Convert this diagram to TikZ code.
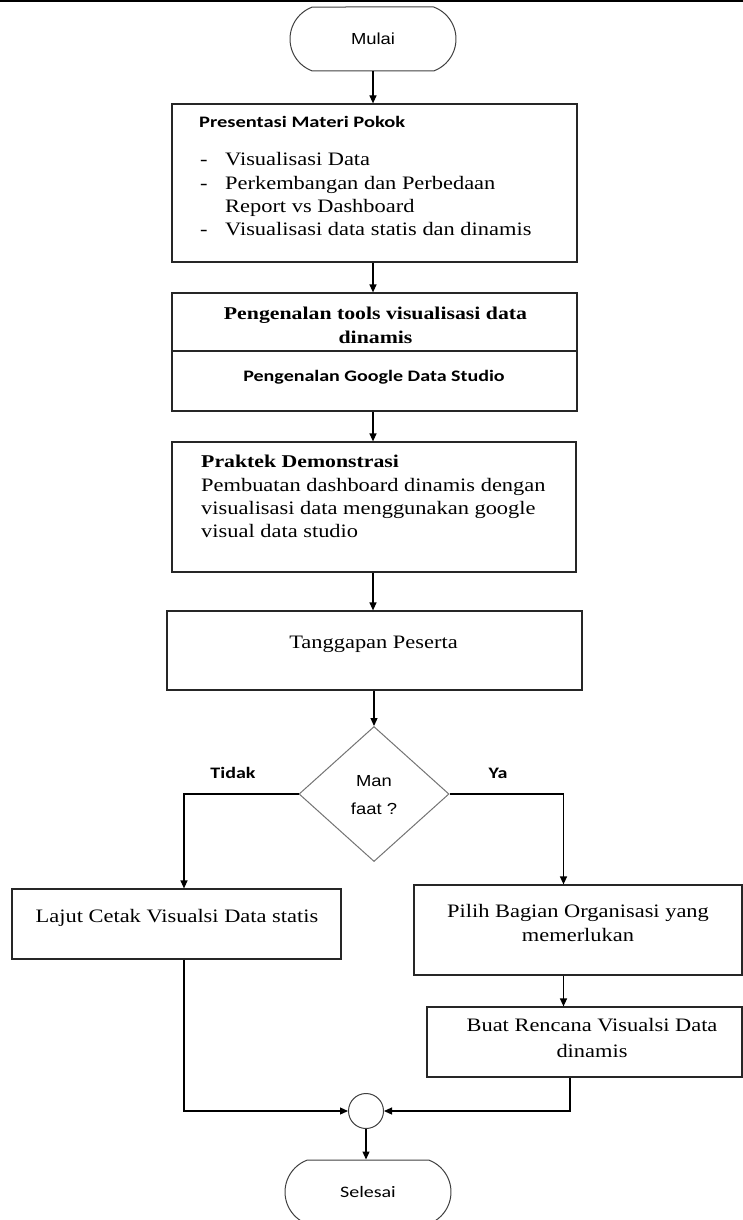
\documentclass[tikz,border=0pt]{standalone}
\usepackage{fontspec}
\usetikzlibrary{shapes.geometric,shapes.misc,arrows.meta}
\newfontfamily\fbody[FakeStretch=1.18]{Liberation Serif}
\newfontfamily\fbodyb[FakeStretch=1.21]{Liberation Serif}
\newfontfamily\fsb[FakeStretch=1.25]{Carlito}
\newfontfamily\fsbw[FakeStretch=1.28]{Carlito}
\newfontfamily\farial[FakeStretch=1.15]{Liberation Sans}
\begin{document}
\begin{tikzpicture}[x=1pt,y=-1pt,
  box/.style={draw=black!85, line width=1.2pt, rectangle, inner sep=0pt},
  term/.style={draw=black!75, line width=1pt, rounded rectangle, rounded rectangle arc length=140, minimum width=166pt, minimum height=64pt, inner sep=0pt},
  arr/.style={line width=1.2pt, -{Triangle[length=8pt,width=7pt]}},
  tb/.style={font=\fbody\fontsize{19}{23}\selectfont, inner sep=0pt},
  tbb/.style={font=\fbodyb\bfseries\fontsize{18}{22}\selectfont, inner sep=0pt},
  ts/.style={font=\fsb\bfseries\fontsize{16}{20}\selectfont, inner sep=0pt},
  tsw/.style={font=\fsbw\bfseries\fontsize{16}{20}\selectfont, inner sep=0pt},
  tsr/.style={font=\fsb\fontsize{16}{20}\selectfont, inner sep=0pt},
  ta/.style={font=\farial\fontsize{16}{20}\selectfont, inner sep=0pt}]
\useasboundingbox (0,0) rectangle (743,1220);
\draw[line width=2pt] (0,1) -- (743,1);

% start
\node[term, ta] (mulai) at (373,39) {Mulai};

% box 1
\node[box, minimum width=405pt, minimum height=158pt] (p1) at (374.5,183) {};
\node[tsw, anchor=base west] (p1t) at (199,128) {Presentasi Materi Pokok};
\node[tb, anchor=base west] (p1d1) at (200,165) {-};
\node[tb, anchor=base west] (p1i1) at (225,165) {Visualisasi Data};
\node[tb, anchor=base west] (p1d2) at (200,189) {-};
\node[tb, anchor=base west] (p1i2) at (225,189) {Perkembangan dan Perbedaan};
\node[tb, anchor=base west] (p1i2b) at (225,212) {Report vs Dashboard};
\node[tb, anchor=base west] (p1d3) at (200,235) {-};
\node[tb, anchor=base west] (p1i3) at (225,235) {Visualisasi data statis dan dinamis};

% box 2
\node[box, minimum width=405pt, minimum height=58pt] (p2a) at (374.5,322) {};
\node[tbb, anchor=base] (p2t1) at (375.5,319) {Pengenalan tools visualisasi data};
\node[tbb, anchor=base] (p2t2) at (375.5,343) {dinamis};
\node[box, minimum width=405pt, minimum height=60pt] (p2b) at (374.5,381) {};
\node[ts, anchor=base] (p2t3) at (374,381) {Pengenalan Google Data Studio};

% box 3
\node[box, minimum width=404pt, minimum height=130pt] (p3) at (374,507) {};
\node[tbb, anchor=base west] (p3t) at (201,467) {Praktek Demonstrasi};
\node[tb, anchor=base west] (p3l1) at (201,491) {Pembuatan dashboard dinamis dengan};
\node[tb, anchor=base west] (p3l2) at (201,514) {visualisasi data menggunakan google};
\node[tb, anchor=base west] (p3l3) at (201,537) {visual data studio};

% box 4
\node[box, minimum width=415pt, minimum height=79pt] (p4) at (374.5,650.5) {};
\node[tb, anchor=base] (p4t) at (373.5,648) {Tanggapan Peserta};

% decision
\node[draw=black!55, line width=1pt, diamond, minimum width=150pt, minimum height=135pt, inner sep=0pt] (dec) at (374,794) {};
\node[ta, anchor=base] (m1) at (374,786) {Man};
\node[ta, anchor=base] (m2) at (374,814) {faat ?};
\node[ts, anchor=base] (tdk) at (233,778) {Tidak};
\node[ts, anchor=base] (ya) at (498,778) {Ya};

% left branch
\node[box, minimum width=329pt, minimum height=70pt] (lj) at (176.5,924) {};
\node[tb, anchor=base] (ljt) at (177,922) {Lajut Cetak Visualsi Data statis};

% right branch
\node[box, minimum width=328pt, minimum height=90pt] (pb) at (578,930) {};
\node[tb, anchor=base] (pbt1) at (578,917) {Pilih Bagian Organisasi yang};
\node[tb, anchor=base] (pbt2) at (578,941) {memerlukan};
\node[box, minimum width=315pt, minimum height=70pt] (bu) at (584.5,1042) {};
\node[tb, anchor=base] (but1) at (592,1031) {Buat Rencana Visualsi Data};
\node[tb, anchor=base] (but2) at (592,1057) {dinamis};

% join and end
\node[draw=black!75, line width=1pt, circle, minimum size=35pt, inner sep=0pt] (cc) at (366,1111) {};
\node[term, tsr] (sel) at (368,1192) {Selesai};

\coordinate (lxc) at (184,900);
\coordinate (rxc) at (563.5,900);
\coordinate (bxc) at (570,1090);

\draw[arr] (mulai.south) -- (mulai.south |- p1.north);
\draw[arr] (p1.south -| mulai) -- (p2a.north -| mulai);
\draw[arr] (p2b.south -| mulai) -- (p3.north -| mulai);
\draw[arr] (p3.south -| mulai) -- (p4.north -| mulai);
\draw[arr] (p4.south -| dec) -- (dec.north);
\draw[arr] (dec.west) -| (lj.north -| lxc);
\draw[arr] (dec.east) -| (pb.north -| rxc);
\draw[arr] (pb.south -| rxc) -- (bu.north -| rxc);
\draw[arr] (lj.south -| lxc) |- (cc.west);
\draw[arr] (bu.south -| bxc) |- (cc.east);
\draw[arr] (cc.south) -- (sel.north -| cc);
\end{tikzpicture}
\end{document}
